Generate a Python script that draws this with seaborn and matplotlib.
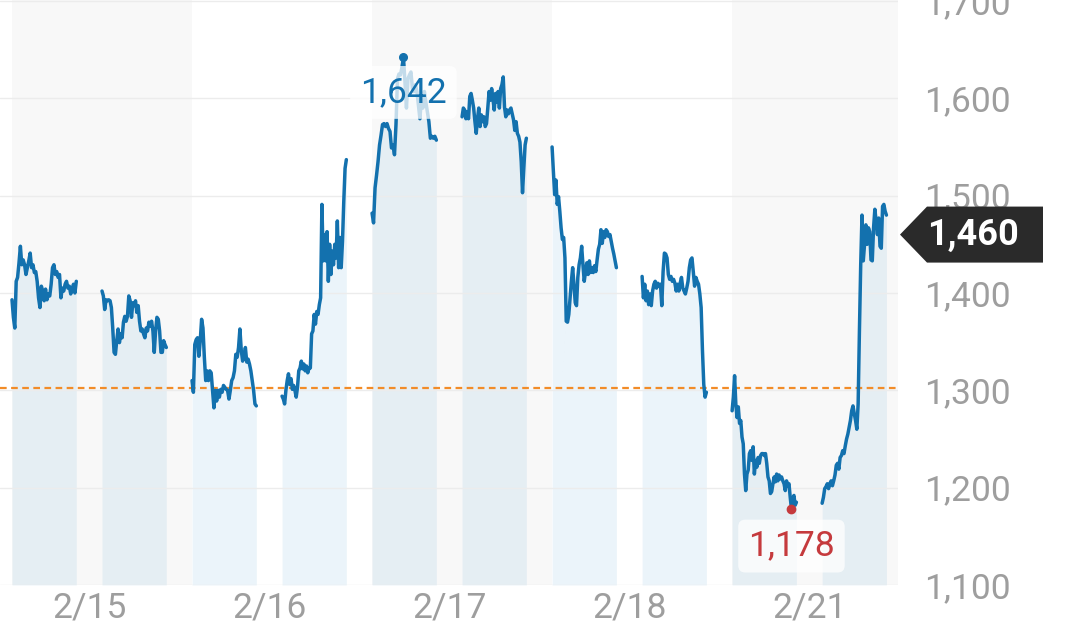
import numpy as np
import pandas as pd
import matplotlib
matplotlib.use("Agg")
import matplotlib.pyplot as plt
import matplotlib.transforms as mtransforms
from matplotlib.patches import Polygon
from matplotlib.ticker import FuncFormatter
import seaborn as sns

# trading days on the x axis
days = ["2/15", "2/16", "2/17", "2/18", "2/21"]
prev_close = 1302
last_price = 1460

# intraday prices, morning (am) and afternoon (pm) session of each day
d1_am = [1393, 1375, 1364, 1412, 1416, 1431, 1448, 1429, 1434, 1429, 1419, 1426, 1433, 1441, 1426, 1429,
         1421, 1422, 1412, 1395, 1385, 1407, 1402, 1392, 1404, 1393, 1399, 1397, 1409, 1426, 1429, 1419,
         1422, 1416, 1419, 1395, 1405, 1402, 1409, 1412, 1405, 1407, 1399, 1404, 1409, 1400, 1412]
d1_pm = [1402, 1397, 1383, 1393, 1392, 1393, 1392, 1385, 1364, 1339, 1337, 1351, 1363, 1349, 1358, 1354,
         1370, 1376, 1371, 1376, 1397, 1392, 1375, 1390, 1387, 1392, 1380, 1387, 1371, 1361, 1363, 1358,
         1354, 1364, 1361, 1370, 1366, 1371, 1361, 1339, 1361, 1375, 1373, 1361, 1339, 1339, 1351, 1347, 1344]
d2_am = [1310, 1298, 1347, 1352, 1354, 1335, 1351, 1373, 1364, 1334, 1310, 1320, 1310, 1320, 1318, 1300,
         1282, 1300, 1289, 1300, 1293, 1301, 1298, 1305, 1303, 1301, 1300, 1291, 1300, 1310, 1313, 1320,
         1337, 1334, 1344, 1363, 1341, 1330, 1335, 1344, 1329, 1332, 1327, 1320, 1310, 1300, 1286, 1284]
d2_pm = [1294, 1291, 1286, 1300, 1310, 1317, 1306, 1312, 1301, 1305, 1300, 1293, 1303, 1320, 1323, 1330,
         1322, 1327, 1320, 1325, 1318, 1323, 1323, 1358, 1361, 1378, 1368, 1381, 1378, 1388, 1395, 1491,
         1433, 1460, 1433, 1463, 1412, 1450, 1419, 1443, 1429, 1450, 1436, 1474, 1426, 1457, 1426, 1453,
         1494, 1528, 1537]
d3_am = [1482, 1472, 1508, 1521, 1535, 1552, 1562, 1573, 1574, 1571, 1574, 1569, 1566, 1549, 1552, 1542,
         1573, 1620, 1625, 1624, 1632, 1642, 1617, 1590, 1620, 1624, 1627, 1610, 1607, 1614, 1607, 1593,
         1579, 1600, 1590, 1607, 1596, 1586, 1576, 1559, 1561, 1559, 1561, 1557]
d3_pm = [1581, 1590, 1588, 1579, 1586, 1579, 1602, 1605, 1598, 1590, 1576, 1564, 1579, 1590, 1571, 1583,
         1576, 1581, 1571, 1574, 1590, 1607, 1598, 1610, 1600, 1588, 1605, 1596, 1607, 1590, 1610, 1614,
         1622, 1591, 1581, 1588, 1584, 1588, 1590, 1584, 1578, 1567, 1576, 1564, 1561, 1555, 1535, 1503,
         1528, 1552, 1559]
d4_am = [1550, 1525, 1501, 1516, 1491, 1499, 1484, 1467, 1455, 1457, 1436, 1371, 1370, 1378, 1395, 1412,
         1426, 1409, 1390, 1387, 1416, 1429, 1436, 1448, 1429, 1412, 1422, 1431, 1419, 1433, 1421, 1426,
         1421, 1428, 1422, 1434, 1445, 1450, 1465, 1451, 1463, 1457, 1465, 1463, 1458, 1460, 1453, 1446,
         1440, 1433, 1426]
d4_pm = [1417, 1395, 1409, 1392, 1402, 1388, 1399, 1387, 1402, 1409, 1412, 1405, 1410, 1407, 1409, 1387,
         1422, 1441, 1440, 1436, 1419, 1414, 1417, 1412, 1414, 1410, 1402, 1409, 1402, 1410, 1416, 1405,
         1402, 1399, 1405, 1412, 1426, 1434, 1436, 1422, 1407, 1416, 1412, 1409, 1399, 1385, 1341, 1306,
         1293, 1298]
d5_am = [1279, 1293, 1315, 1286, 1272, 1283, 1266, 1269, 1252, 1245, 1214, 1197, 1214, 1218, 1235, 1238,
         1228, 1242, 1214, 1228, 1221, 1231, 1225, 1233, 1235, 1235, 1233, 1235, 1225, 1211, 1207, 1194,
         1196, 1204, 1211, 1206, 1214, 1207, 1213, 1209, 1211, 1207, 1204, 1197, 1207, 1202, 1204, 1190,
         1178, 1189, 1192, 1182, 1185]
d5_pm = [1184, 1190, 1199, 1201, 1204, 1199, 1204, 1207, 1202, 1207, 1213, 1223, 1225, 1219, 1231, 1233,
         1238, 1235, 1243, 1250, 1255, 1262, 1269, 1279, 1284, 1276, 1269, 1260, 1286, 1361, 1429, 1480,
         1433, 1450, 1470, 1450, 1467, 1463, 1434, 1433, 1467, 1486, 1474, 1460, 1477, 1448, 1446, 1489,
         1491, 1484, 1480]

sessions = [d1_am, d1_pm, d2_am, d2_pm, d3_am, d3_pm, d4_am, d4_pm, d5_am, d5_pm]

# minutes from 9:00, one day window is 9:00-16:00
DAY_LEN = 420
AM = (0, 150)
PM = (210, 360)

rows = []
for i, vals in enumerate(sessions):
    start, end = AM if i % 2 == 0 else PM
    t = np.linspace(start, end, len(vals)) + (i // 2) * DAY_LEN
    for m, v in zip(t, vals):
        rows.append((i, m, v))
df = pd.DataFrame(rows, columns=["session", "minute", "price"])

sns.set_theme(style="white")
plt.rcParams["font.family"] = ["Roboto", "DejaVu Sans"]

blue = "#1371ae"
red = "#c53a3d"
gray_txt = "#9e9e9e"

fig = plt.figure(figsize=(10.8, 6.38), dpi=100)
ax = fig.add_axes([0, 1 - 585 / 638, 898 / 1080, 585 / 638])
ax.set_xlim(-28, 2067)
ax.set_ylim(1100, 1701)

# alternating day bands
for d in range(0, len(days), 2):
    ax.axvspan(d * DAY_LEN, (d + 1) * DAY_LEN, color="#f8f8f8", lw=0, zorder=0)

# light fill under each session
for s, g in df.groupby("session"):
    ax.fill_between(g["minute"], g["price"], 1100, color="#0b7dc2", alpha=0.08, lw=0, zorder=1)

ax.axhline(prev_close, color="#f28c28", lw=1.6, ls=(0, (3, 2)), zorder=1.8)
sns.lineplot(data=df, x="minute", y="price", units="session", estimator=None,
             color=blue, lw=2.5, ax=ax, zorder=2)

# high / low markers
hi = df.loc[df["price"].idxmax()]
lo = df.loc[df["price"].idxmin()]
ax.plot(hi["minute"], hi["price"], "o", color=blue, ms=5.5, zorder=3)
ax.plot(lo["minute"], lo["price"], "o", color=red, ms=6, zorder=3)
box = dict(boxstyle="round,pad=0.28,rounding_size=0.2", fc="white", ec="none", alpha=0.75)
ax.annotate(f"{hi['price']:,.0f}", xy=(hi["minute"], hi["price"]), xytext=(0, -35),
            textcoords="offset pixels", ha="center", va="center", color=blue, fontsize=25.5,
            bbox=box, zorder=4)
ax.annotate(f"{lo['price']:,.0f}", xy=(lo["minute"], lo["price"]), xytext=(0, -37),
            textcoords="offset pixels", ha="center", va="center", color=red, fontsize=25.5,
            bbox=box, zorder=4)

# axes styling
ax.set_xticks([d * DAY_LEN + 180 for d in range(len(days))])
ax.set_xticklabels(days)
ax.set_yticks(range(1100, 1701, 100))
ax.yaxis.set_major_formatter(FuncFormatter(lambda v, p: f"{v:,.0f}"))
ax.yaxis.tick_right()
ax.tick_params(axis="both", length=0, labelsize=25.5, labelcolor=gray_txt)
ax.tick_params(axis="y", pad=18.5)
ax.tick_params(axis="x", pad=4.5)
ax.grid(axis="y", color="#ececec", lw=1)
ax.set_axisbelow("line")
ax.set_xlabel("")
ax.set_ylabel("")
sns.despine(ax=ax, left=True, bottom=True, right=True, top=True)

# last price badge on the right
trans = mtransforms.blended_transform_factory(ax.transAxes, ax.transData)
tx, ty = trans.transform((1.0, last_price))
tx += 2
badge = Polygon([(0, 0), (27, 28), (143, 28), (143, -28), (27, -28)], closed=True,
                fc="#2a2a2a", ec="none", transform=mtransforms.Affine2D().translate(tx, ty),
                clip_on=False, zorder=4.8)
ax.add_artist(badge)
ax.annotate(f"{last_price:,}", xy=(1.0, last_price), xycoords=trans, xytext=(75, 0),
            textcoords="offset pixels", ha="center", va="center", color="white",
            fontweight="bold", fontsize=26, annotation_clip=False, zorder=5)

fig.savefig("out.png", dpi=100)
